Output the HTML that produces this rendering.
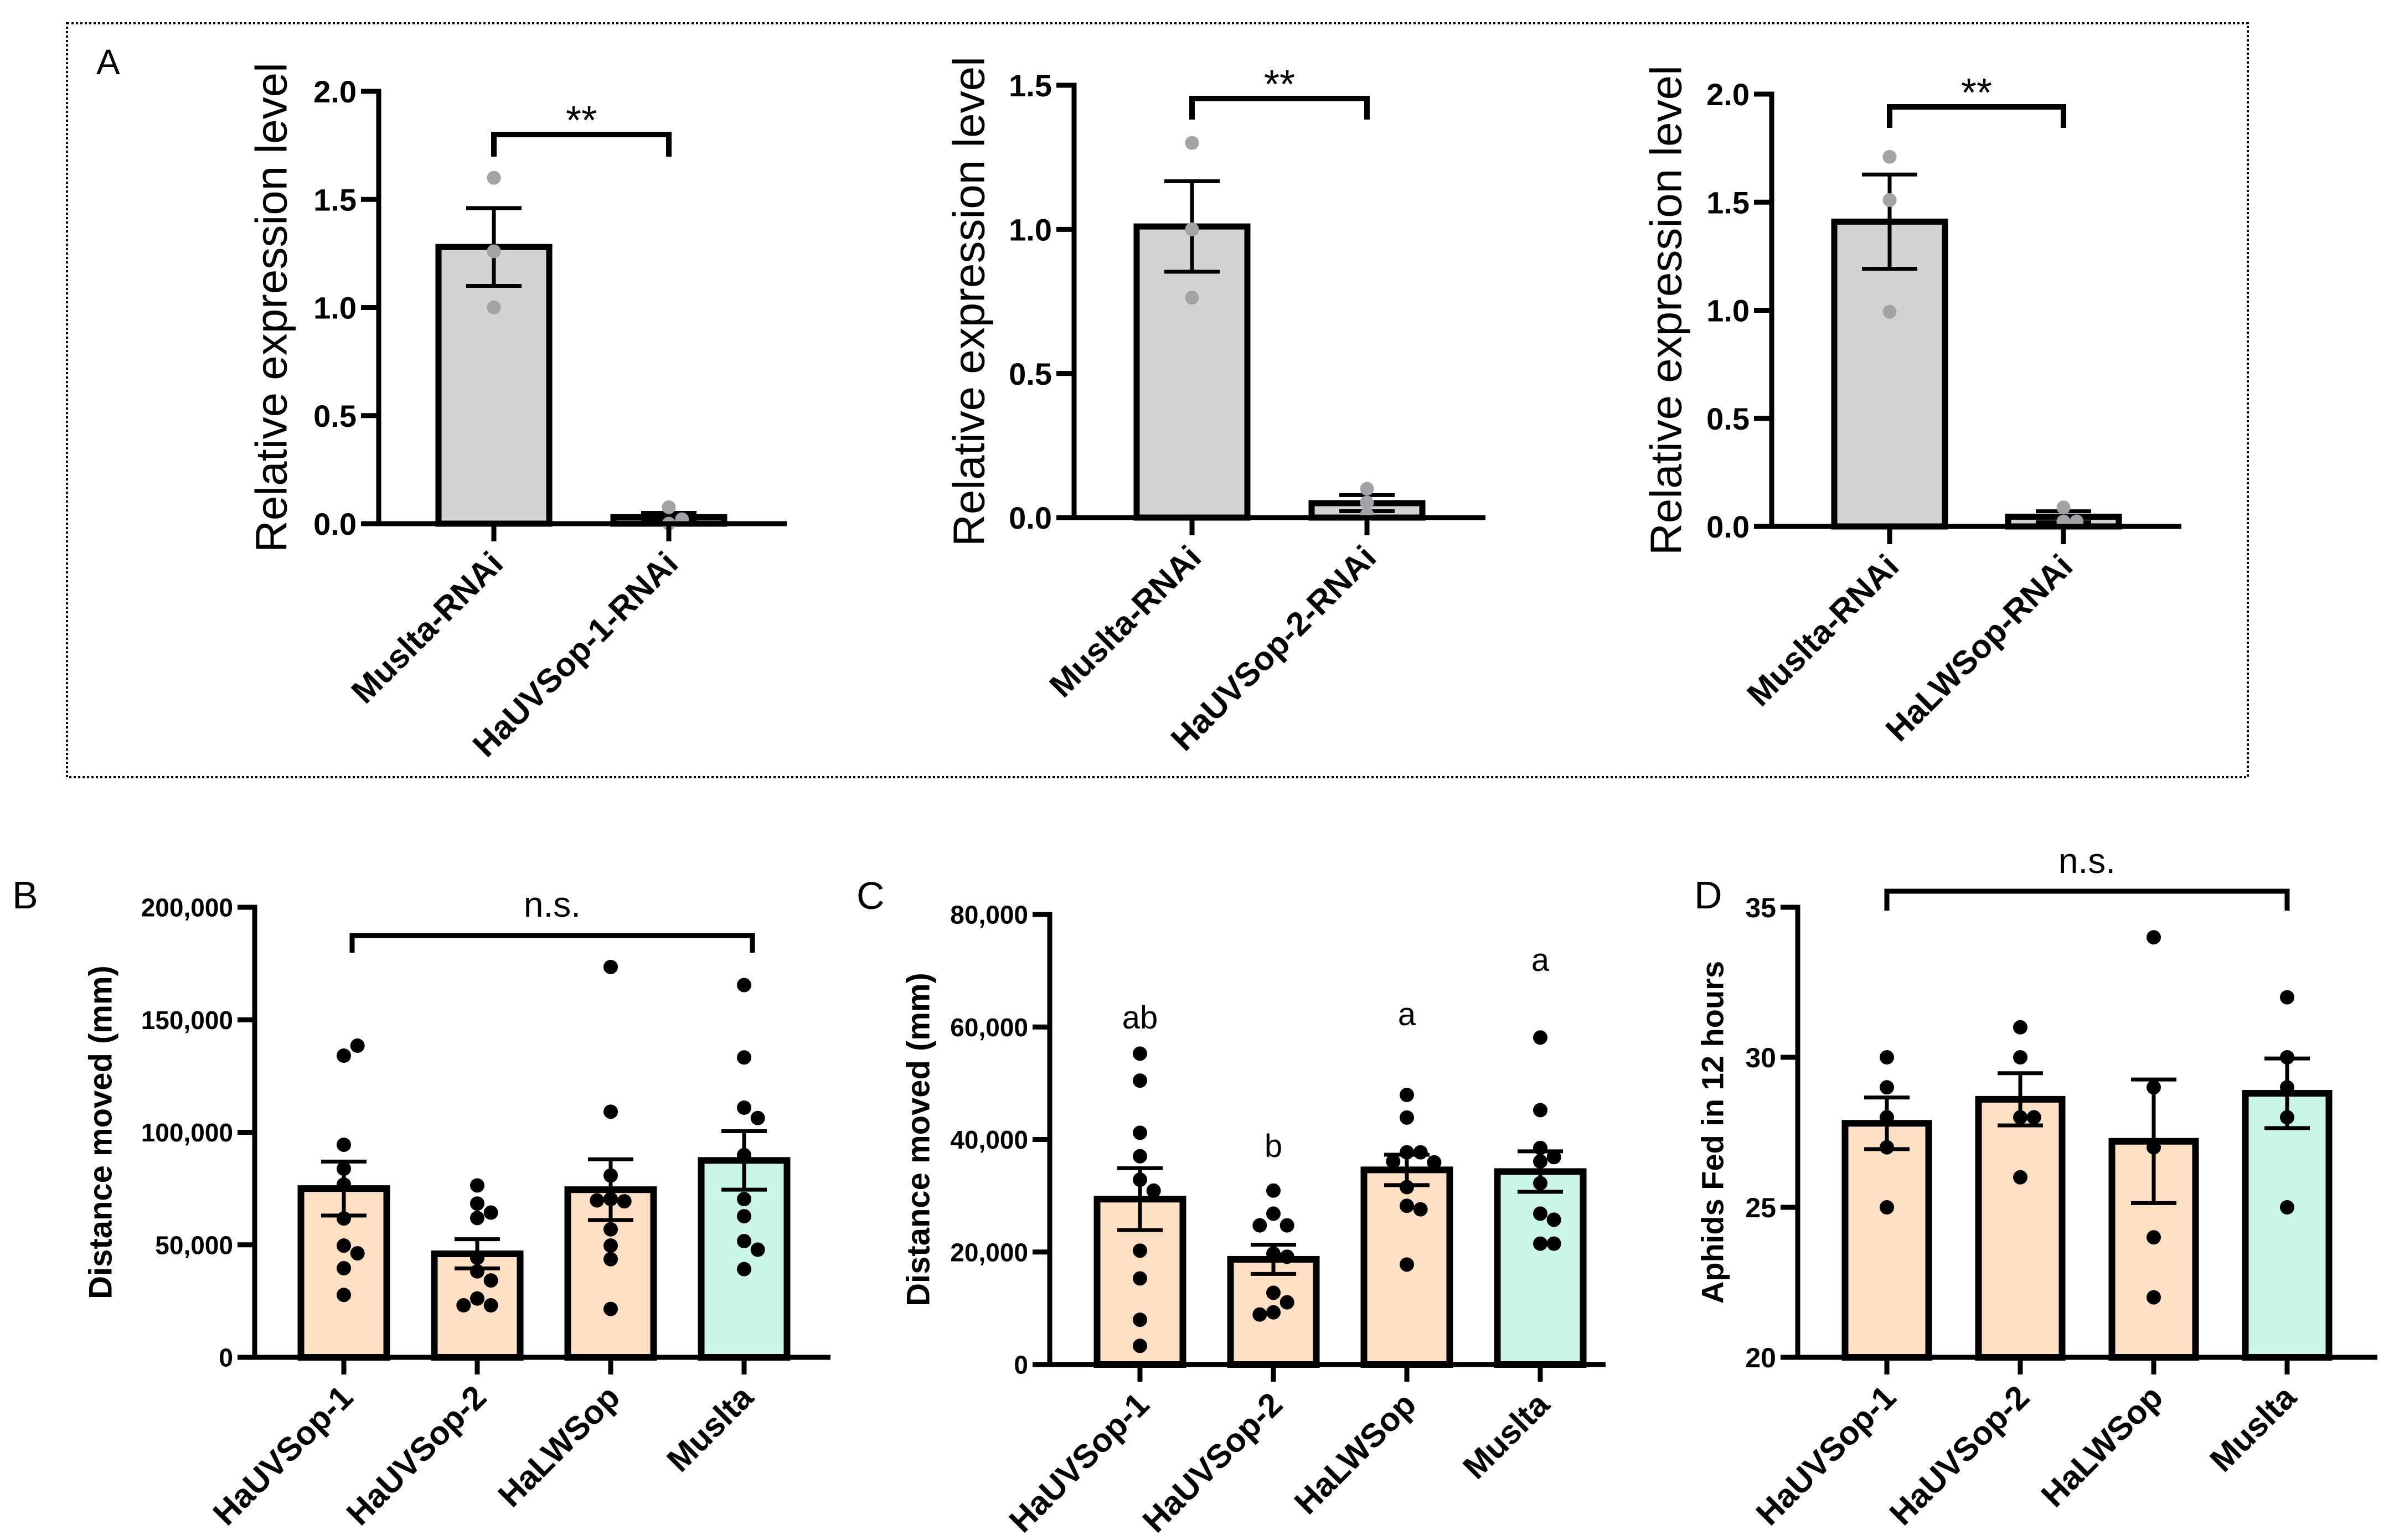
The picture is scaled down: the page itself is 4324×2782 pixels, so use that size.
<!DOCTYPE html>
<html><head><meta charset="utf-8"><title>RNAi expression and behaviour</title>
<style>
html,body{margin:0;padding:0;background:#fff;}
svg{display:block;}
text{font-family:"Liberation Sans",Arial,sans-serif;fill:#000;}
.tick{font-weight:bold;}
.narrow{font-family:"Liberation Sans Narrow","Liberation Sans",Arial,sans-serif;font-weight:bold;}
</style></head>
<body>
<svg id="fig" width="4324" height="2782" viewBox="0 0 4324 2782" xmlns="http://www.w3.org/2000/svg">
<rect x="0" y="0" width="4324" height="2782" fill="#fff"/>
<rect x="121" y="42" width="3939" height="1362" fill="none" stroke="#000" stroke-width="4" stroke-dasharray="4 4"/>
<text x="174" y="134" font-size="64">A</text>
<text x="22" y="1641" font-size="70">B</text>
<text x="1547" y="1642" font-size="70">C</text>
<text x="3060" y="1641" font-size="70">D</text>
</svg>
<script>
// ---------- Data ----------
const a1Categories = ["Muslta-RNAi", "HaUVSop-1-RNAi"];
const a1Means = [1.28, 0.03];
const a1Sem = [0.18, 0.02];
const a1Points = [[1.60, 1.26, 1.00], [0.076, 0.0, 0.02]];
const a1Ticks = [0, 0.5, 1.0, 1.5, 2.0];

const a2Categories = ["Muslta-RNAi", "HaUVSop-2-RNAi"];
const a2Means = [1.01, 0.05];
const a2Sem = [0.157, 0.028];
const a2Points = [[1.30, 1.00, 0.763], [0.10, 0.052, 0.01]];
const a2Ticks = [0, 0.5, 1.0, 1.5];

const a3Categories = ["Muslta-RNAi", "HaLWSop-RNAi"];
const a3Means = [1.41, 0.045];
const a3Sem = [0.218, 0.025];
const a3Points = [[1.71, 1.51, 0.993], [0.088, 0.023, 0.023]];
const a3Ticks = [0, 0.5, 1.0, 1.5, 2.0];

const groupCategories = ["HaUVSop-1", "HaUVSop-2", "HaLWSop", "Muslta"];

const bMeans = [75000, 46000, 74500, 87500];
const bSem = [12000, 6500, 13500, 13000];
const bPoints = [
  [134070, 138492, 94472, 83819, 76784, 61709, 49648, 46231, 39598, 27739],
  [76382, 68342, 64322, 61910, 44221, 38191, 34171, 26131, 23116, 23116],
  [173467, 109146, 80804, 70352, 69347, 69749, 56884, 49648, 43618, 21507],
  [165427, 133266, 110955, 106332, 89849, 70352, 62714, 51658, 47839, 39196]
];
const bTicks = [0, 50000, 100000, 150000, 200000];

const cMeans = [29400, 18700, 34600, 34300];
const cSem = [5500, 2600, 2700, 3600];
const cPoints = [
  [55266, 50473, 41198, 37024, 32850, 30918, 20251, 15304, 7961, 3324],
  [30918, 26821, 24734, 24734, 19710, 19169, 12754, 11053, 9275, 8889],
  [47923, 43903, 37720, 37720, 36097, 35942, 31536, 28213, 27594, 17778],
  [58125, 45217, 38493, 36870, 36097, 32232, 26821, 25739, 21488, 21488]
];
const cTicks = [0, 20000, 40000, 60000, 80000];
const cLetters = ["ab", "b", "a", "a"];

const dMeans = [27.8, 28.6, 27.2, 28.8];
const dSem = [0.86, 0.87, 2.06, 1.16];
const dPoints = [
  [30, 29, 28, 27, 25],
  [31, 30, 28, 28, 26],
  [34, 29, 27, 24, 22],
  [32, 30, 29, 28, 25]
];
const dTicks = [20, 25, 30, 35];

// ---------- Rendering ----------
const NS = "http://www.w3.org/2000/svg";
const svg = document.getElementById("fig");
function mk(tag, attrs, parent) {
  const e = document.createElementNS(NS, tag);
  for (const k in attrs) e.setAttribute(k, attrs[k]);
  (parent || svg).appendChild(e);
  return e;
}

function drawPanel(cfg, cats, means, sem, points, ticks) {
  const g = mk("g", {});
  
  
  const yScale = v => cfg.y0 - (v - cfg.yMin) / (cfg.yMax - cfg.yMin) * (cfg.y0 - cfg.yTop);
  const xScale = i => cfg.cx0 + i * cfg.step;

  means.forEach((m, i) => {
    const x = xScale(i), top = yScale(m);
    const r = mk("rect", {x: x - cfg.barW / 2, y: top, width: cfg.barW, height: Math.max(cfg.y0 - top, 0.1),
      fill: cfg.fills[i], stroke: "#000", "stroke-width": cfg.barStroke}, g);
    
    
  });
  means.forEach((m, i) => {
    const x = xScale(i), hi = yScale(m + sem[i]), lo = yScale(m - sem[i]);
    const eg = mk("g", {stroke: "#000", "stroke-width": cfg.errStroke}, g);
    
    
    mk("line", {x1: x, x2: x, y1: hi, y2: lo}, eg);
    mk("line", {x1: x - cfg.capW / 2, x2: x + cfg.capW / 2, y1: hi, y2: hi}, eg);
    mk("line", {x1: x - cfg.capW / 2, x2: x + cfg.capW / 2, y1: lo, y2: lo}, eg);
  });
  points.forEach((arr, i) => {
    const placed = [];
    const cx = xScale(i);
    arr.forEach(v => {
      const y = yScale(v);
      const order = [0, 1, -1, 2, -2, 3, -3];
      let px = cx;
      for (const k of order) {
        const tx = cx + k * cfg.dotR * 1.9;
        if (placed.every(p => Math.hypot(p[0] - tx, p[1] - y) >= cfg.dotR * 1.7)) { px = tx; break; }
      }
      placed.push([px, y]);
      const c = mk("circle", {cx: px, cy: y, r: cfg.dotR, fill: cfg.dotFill}, g);
      
      
    });
  });
  const ax = mk("g", {stroke: "#000", "stroke-width": cfg.axisStroke, fill: "none"}, g);
  
  
  mk("line", {x1: cfg.axisX, x2: cfg.axisX, y1: cfg.yTop - cfg.axisStroke / 2, y2: cfg.y0 + cfg.axisStroke / 2}, ax);
  mk("line", {x1: cfg.axisX - cfg.tickLen, x2: cfg.right, y1: cfg.y0, y2: cfg.y0}, ax);
  ticks.forEach(t => {
    const y = yScale(t);
    mk("line", {x1: cfg.axisX - cfg.tickLen, x2: cfg.axisX, y1: y, y2: y}, ax);
    const tl = mk("text", {x: cfg.axisX - cfg.tickLen - 8, y: y + cfg.tickFont * 0.36, "text-anchor": "end",
      "font-size": cfg.tickFont, class: cfg.tickClass}, g);
    tl.textContent = cfg.fmt(t);
    
    
  });
  cats.forEach((c, i) => {
    const x = xScale(i);
    mk("line", {x1: x, x2: x, y1: cfg.y0, y2: cfg.y0 + cfg.tickLen}, ax);
    const tl = mk("text", {transform: "translate(" + (x + 20) + "," + (cfg.y0 + 76) + ") rotate(-45)",
      "text-anchor": "end", "font-size": cfg.catFont, "font-weight": "bold"}, g);
    tl.textContent = c;
    
    
  });
  const yt = mk("text", {transform: "translate(" + cfg.titleX + "," + ((cfg.y0 + cfg.yTop) / 2) + ") rotate(-90)",
    "text-anchor": "middle", "dominant-baseline": "central", "font-size": cfg.titleFont,
    "font-weight": cfg.titleWeight, "xml:space": "preserve"}, g);
  yt.textContent = cfg.title;
  
  
  if (cfg.bracket) {
    const b = cfg.bracket;
    const x1 = xScale(b.from) + (b.dx || 0), x2 = xScale(b.to) + (b.dx || 0);
    const p = mk("path", {d: "M" + x1 + "," + b.yEnd + " V" + b.y + " H" + x2 + " V" + b.yEnd,
      fill: "none", stroke: "#000", "stroke-width": b.w}, g);
    
    
    const st = mk("text", {x: (x1 + x2) / 2, y: b.ty, "text-anchor": "middle", "font-size": b.fs}, g);
    st.textContent = b.label;
    
    
  }
  return {xScale, yScale, g};
}

const grey = ["#d3d3d3", "#d3d3d3"];
const warm = ["#fde0c3", "#fde0c3", "#fde0c3", "#cbf5e6"];
const fmt1 = t => t.toFixed(1);
const fmtK = t => t.toLocaleString("en-US");
const fmtI = t => String(t);

const aBase = {yMin: 0, barW: 200, step: 316, barStroke: 11, errStroke: 7, capW: 100, dotR: 12.5,
  dotFill: "#a3a3a7", axisStroke: 9, tickLen: 32, tickFont: 56, tickClass: "tick", fmt: fmt1,
  catFont: 60, titleFont: 80, titleWeight: "normal", title: "Relative expression level", fills: grey};

drawPanel(Object.assign({}, aBase, {name: "panel-a1", axisX: 684, y0: 946, yTop: 165, yMax: 2, cx0: 892, right: 1421, titleX: 490,
  bracket: {from: 0, to: 1, y: 243, yEnd: 283, w: 10, ty: 242, fs: 72, label: "**"}}),
  a1Categories, a1Means, a1Sem, a1Points, a1Ticks);
drawPanel(Object.assign({}, aBase, {name: "panel-a2", axisX: 1940, y0: 935, yTop: 154, yMax: 1.5, cx0: 2153, right: 2683, titleX: 1750,
  bracket: {from: 0, to: 1, y: 178, yEnd: 216, w: 10, ty: 177, fs: 72, label: "**"}}),
  a2Categories, a2Means, a2Sem, a2Points, a2Ticks);
drawPanel(Object.assign({}, aBase, {name: "panel-a3", axisX: 3200, y0: 951, yTop: 170, yMax: 2, cx0: 3413, step: 314, right: 3940, titleX: 3009,
  bracket: {from: 0, to: 1, y: 193, yEnd: 231, w: 10, ty: 192, fs: 72, label: "**"}}),
  a3Categories, a3Means, a3Sem, a3Points, a3Ticks);

const gBase = {yMin: 0, barW: 155, step: 241, barStroke: 12, errStroke: 7, capW: 82, dotR: 13,
  dotFill: "#000", axisStroke: 9, tickLen: 31, tickFont: 46, tickClass: "narrow", fmt: fmtK,
  catFont: 60, titleFont: 58, titleWeight: "bold", title: "Distance moved (mm)", fills: warm};

drawPanel(Object.assign({}, gBase, {name: "panel-b", axisX: 460, y0: 2452, yTop: 1639, yMax: 200000, cx0: 621, right: 1500, titleX: 182,
  bracket: {from: 0, to: 3, dx: 15, y: 1690, yEnd: 1721, w: 9, ty: 1656, fs: 64, label: "n.s."}}),
  groupCategories, bMeans, bSem, bPoints, bTicks);

const pc = drawPanel(Object.assign({}, gBase, {name: "panel-c", axisX: 1896, y0: 2465, yTop: 1652, yMax: 80000, cx0: 2059, right: 2900, titleX: 1659}),
  groupCategories, cMeans, cSem, cPoints, cTicks);
const cLetterY = [1858, 2090, 1852, 1754];
cLetters.forEach((l, i) => {
  const t = mk("text", {x: pc.xScale(i), y: cLetterY[i], "text-anchor": "middle", "font-size": 58});
  t.textContent = l;
  
  
});

drawPanel(Object.assign({}, gBase, {name: "panel-d", axisX: 3247, y0: 2452, yTop: 1639, yMin: 20, yMax: 35, cx0: 3408, right: 4294, titleX: 3093,
  tickClass: "tick", tickFont: 50, fmt: fmtI, step: 241, barW: 151, title: "Aphids Fed  in 12 hours", titleFont: 56,
  bracket: {from: 0, to: 3, y: 1610, yEnd: 1645, w: 9, ty: 1577, fs: 64, label: "n.s."}}),
  groupCategories, dMeans, dSem, dPoints, dTicks);
</script>
</body></html>
